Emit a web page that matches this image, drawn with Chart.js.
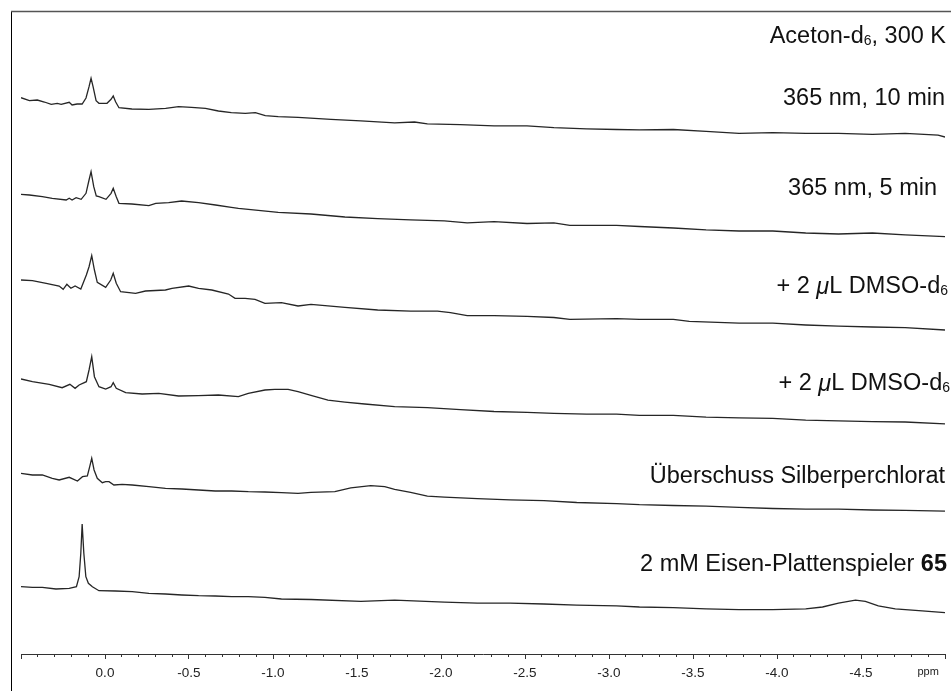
<!DOCTYPE html>
<html>
<head>
<meta charset="utf-8">
<script src="https://cdn.jsdelivr.net/npm/chart.js@4"></script>
<style>
  html, body { margin: 0; padding: 0; background: #fff; }
</style>
</head>
<body>
<canvas id="nmr" width="951" height="691"></canvas>
<script>
// chemical shift (ppm) and intensity of each trace, top to bottom
const ppm1 = [0.5, 0.45, 0.403, 0.361, 0.32, 0.284, 0.261, 0.213, 0.196, 0.166, 0.136, 0.113, 0.095, 0.083, 0.071, 0.053, 0.036, -0.012, -0.036, -0.049, -0.063, -0.083, -0.16, -0.261, -0.361, -0.438, -0.515, -0.598, -0.675, -0.752, -0.835, -0.895, -0.954, -1.031, -1.149, -1.345, -1.523, -1.724, -1.842, -1.919, -2.115, -2.316, -2.512, -2.672, -2.867, -3.045, -3.181, -3.383, -3.578, -3.774, -3.975, -4.171, -4.366, -4.568, -4.763, -4.959, -5.0];
const int1 = [0, -3.0, -2.3, -4.3, -6.6, -5.6, -6.6, -4.6, -7.3, -6.3, -6.3, -0.3, 11.0, 19.4, 11.0, -3.0, -5.6, -5.6, -1.6, 1.7, -4.0, -10.0, -11.3, -11.6, -10.6, -9.0, -9.6, -10.6, -13.3, -15.0, -15.6, -15.0, -18.0, -19.0, -19.6, -21.7, -23.2, -25.1, -24.3, -26.2, -27.0, -28.1, -28.1, -30.0, -31.1, -31.8, -32.2, -31.8, -33.7, -35.6, -34.9, -35.6, -35.6, -36.7, -35.6, -37.5, -39.3];

const ppm2 = [0.5, 0.45, 0.373, 0.314, 0.231, 0.213, 0.196, 0.172, 0.142, 0.113, 0.095, 0.083, 0.067, 0.052, 0.036, -0.006, -0.036, -0.049, -0.067, -0.083, -0.16, -0.261, -0.302, -0.379, -0.456, -0.557, -0.658, -0.752, -0.794, -1.031, -1.226, -1.428, -1.623, -1.819, -2.02, -2.156, -2.316, -2.512, -2.672, -2.767, -3.045, -3.181, -3.383, -3.578, -3.774, -3.975, -4.171, -4.366, -4.568, -4.763, -5.0];
const int2 = [0, -0.7, -2.4, -4.0, -5.7, -4.0, -5.7, -3.4, -5.0, 1.0, 14.3, 22.6, 7.6, -1.7, -2.4, -5.0, 1.0, 6.0, -2.4, -9.0, -9.7, -11.4, -9.0, -8.4, -6.7, -8.4, -10.7, -13.0, -14.0, -18.0, -19.7, -22.7, -24.3, -25.5, -26.6, -28.5, -27.4, -29.2, -28.5, -31.1, -31.1, -32.2, -33.7, -35.6, -36.7, -36.7, -38.7, -39.7, -38.7, -40.5, -42.4];

const ppm3 = [0.5, 0.432, 0.35, 0.273, 0.249, 0.227, 0.203, 0.178, 0.144, 0.111, 0.095, 0.079, 0.063, 0.046, -0.004, -0.034, -0.049, -0.067, -0.093, -0.182, -0.241, -0.36, -0.399, -0.498, -0.557, -0.636, -0.735, -0.774, -0.834, -0.893, -0.952, -1.05, -1.149, -1.226, -1.428, -1.623, -1.819, -1.979, -2.056, -2.156, -2.316, -2.512, -2.672, -2.767, -3.045, -3.181, -3.383, -3.478, -3.774, -3.975, -4.171, -4.366, -4.568, -4.763, -5.0];
const int3 = [0, -0.7, -3.3, -6.0, -9.3, -4.3, -8.3, -6.0, -9.0, 5.0, 13.3, 24.3, 10.0, -2.3, -7.3, 0, 6.7, -3.3, -11.7, -13.3, -11.0, -10.0, -8.3, -6.0, -8.3, -10.0, -14.0, -18.3, -18.3, -19.3, -23.3, -22.7, -26.0, -24.4, -27.4, -30.0, -31.1, -31.1, -32.6, -35.6, -35.6, -36.4, -37.5, -39.4, -38.6, -39.4, -39.4, -41.3, -43.2, -43.2, -45.0, -46.2, -47.0, -47.7, -50.0];

const ppm4 = [0.5, 0.432, 0.332, 0.255, 0.209, 0.178, 0.154, 0.111, 0.095, 0.079, 0.063, 0.036, -0.004, -0.036, -0.049, -0.067, -0.123, -0.221, -0.32, -0.438, -0.557, -0.675, -0.794, -0.853, -0.952, -1.011, -1.09, -1.149, -1.226, -1.327, -1.428, -1.546, -1.724, -1.919, -2.115, -2.316, -2.512, -2.672, -2.867, -3.045, -3.181, -3.383, -3.578, -3.774, -3.975, -4.171, -4.366, -4.568, -4.763, -5.0];
const int4 = [0, -2.7, -5.3, -8.7, -5.3, -9.3, -6.0, -2.7, 9.0, 22.3, 2.3, -7.7, -10.0, -7.7, -3.7, -9.3, -13.7, -15.0, -14.3, -17.0, -16.7, -16.0, -17.7, -14.3, -11.0, -10.3, -10.3, -12.7, -16.3, -21.2, -23.1, -25.0, -27.6, -28.7, -30.6, -32.5, -33.3, -34.4, -35.1, -35.1, -36.3, -36.3, -38.1, -38.9, -39.3, -41.2, -41.9, -42.7, -43.0, -44.9];

const ppm5 = [0.5, 0.432, 0.373, 0.314, 0.273, 0.213, 0.164, 0.134, 0.105, 0.091, 0.079, 0.065, 0.046, 0.016, -0.004, -0.024, -0.053, -0.102, -0.162, -0.261, -0.36, -0.458, -0.557, -0.656, -0.754, -0.853, -0.952, -1.05, -1.149, -1.226, -1.368, -1.463, -1.582, -1.665, -1.724, -1.819, -1.919, -2.02, -2.216, -2.411, -2.613, -2.808, -3.045, -3.181, -3.383, -3.578, -3.774, -3.975, -4.171, -4.366, -4.568, -4.763, -5.0];
const int5 = [0, -1.7, -1.7, -5.0, -6.7, -4.0, -7.7, -3.4, -2.7, 6.6, 15.0, 3.3, -5.0, -9.4, -8.4, -8.4, -11.7, -11.0, -11.7, -13.4, -15.0, -15.7, -16.7, -17.7, -17.7, -18.4, -18.7, -19.4, -20.0, -19.0, -18.3, -14.5, -12.3, -13.4, -16.0, -19.0, -22.8, -23.9, -25.4, -26.5, -27.3, -29.2, -30.3, -31.4, -32.2, -32.9, -34.1, -35.2, -35.9, -35.9, -36.7, -37.1, -37.8];

const ppm6 = [0.5, 0.432, 0.373, 0.292, 0.213, 0.17, 0.154, 0.144, 0.136, 0.126, 0.114, 0.099, 0.075, 0.036, -0.063, -0.162, -0.261, -0.36, -0.458, -0.557, -0.656, -0.754, -0.853, -0.952, -1.05, -1.226, -1.523, -1.724, -2.02, -2.216, -2.411, -2.613, -2.808, -3.045, -3.181, -3.383, -3.578, -3.774, -3.975, -4.171, -4.271, -4.366, -4.467, -4.526, -4.603, -4.704, -4.864, -5.0];
const int6 = [0, -0.6, -0.6, -2.3, -1.6, 0, 10.0, 33.4, 62.7, 33.4, 10.0, 3.4, 0, -4.0, -4.3, -5.0, -6.6, -7.3, -8.3, -9.0, -9.3, -10.0, -10.0, -10.6, -12.3, -12.8, -14.7, -13.5, -15.4, -16.5, -16.5, -17.3, -18.4, -19.2, -20.3, -21.0, -22.2, -22.9, -22.9, -22.2, -20.3, -16.5, -13.5, -14.7, -19.2, -22.2, -24.1, -25.9];

const allPpm = [ppm1, ppm2, ppm3, ppm4, ppm5, ppm6];
const allInt = [int1, int2, int3, int4, int5, int6];

// labelled shifts on the axis
const tickLabels = [0.0, -0.5, -1.0, -1.5, -2.0, -2.5, -3.0, -3.5, -4.0, -4.5];
const unitLabel = 'ppm';

// text runs beside the traces (plain, sub, it, b)
const traceLabels = [
  [['Aceton-d'], ['6', 'sub'], [', 300 K']],
  [['365 nm, 10 min']],
  [['365 nm, 5 min']],
  [['+ 2 '], ['\u03bc', 'it'], ['L DMSO-d'], ['6', 'sub']],
  [['+ 2 '], ['\u03bc', 'it'], ['L DMSO-d'], ['6', 'sub']],
  [['\u00dcberschuss Silberperchlorat']],
  [['2 mM Eisen-Plattenspieler '], ['65', 'b']]
];

// vertical stacking of the traces
const offsets = [556.3, 459.7, 374, 275, 180.7, 67.3];
const labelPos = [[946, 37], [945, 99], [937, 189], [948, 287], [950, 384], [945, 477], [947, 565]];

const FONT = '"Liberation Sans", Arial, sans-serif';

const decor = {
  id: 'decor',
  afterDraw(chart) {
    const ctx = chart.ctx;
    const xs = chart.scales.x;
    ctx.save();
    // frame
    ctx.strokeStyle = '#000';
    ctx.lineWidth = 1;
    ctx.beginPath();
    ctx.moveTo(11.5, 11);
    ctx.lineTo(11.5, 691);
    ctx.stroke();
    ctx.strokeStyle = '#555';
    ctx.lineWidth = 1.5;
    ctx.beginPath();
    ctx.moveTo(11, 11.5);
    ctx.lineTo(951, 11.5);
    ctx.stroke();

    ctx.fillStyle = '#222';
    ctx.textBaseline = 'middle';
    ctx.textAlign = 'center';
    ctx.font = '11px ' + FONT;
    ctx.fillText(unitLabel, xs.getPixelForValue(-4.9), 672);

    ctx.textAlign = 'left';
    ctx.fillStyle = '#111';
    const fontFor = k => k === 'sub' ? '14px ' + FONT : k === 'it' ? 'italic 23.5px ' + FONT : k === 'b' ? 'bold 23.5px ' + FONT : '23.5px ' + FONT;
    traceLabels.forEach((runs, i) => {
      let w = 0;
      runs.forEach(r => { ctx.font = fontFor(r[1]); w += ctx.measureText(r[0]).width; });
      let x = labelPos[i][0] - w;
      const y = labelPos[i][1];
      runs.forEach(r => {
        ctx.font = fontFor(r[1]);
        ctx.fillText(r[0], x, r[1] === 'sub' ? y + 4 : y);
        x += ctx.measureText(r[0]).width;
      });
    });
    ctx.restore();
  }
};

const datasets = allPpm.map((p, i) => ({
  data: p.map((v, j) => ({ x: v, y: allInt[i][j] + offsets[i] })),
  borderColor: '#262626',
  borderWidth: 1.3,
  pointRadius: 0,
  tension: 0,
  fill: false
}));

new Chart(document.getElementById('nmr'), {
  type: 'line',
  data: { datasets },
  options: {
    responsive: false,
    animation: false,
    devicePixelRatio: 1,
    layout: { padding: { left: 21, right: 1, top: 11, bottom: 0 } },
    plugins: { legend: { display: false }, tooltip: { enabled: false } },
    scales: {
      x: {
        type: 'linear',
        reverse: true,
        min: -5,
        max: 0.5,
        position: 'bottom',
        border: { display: true, color: '#333', width: 1 },
        grid: { drawOnChartArea: false, drawTicks: true, tickLength: 5, color: '#333' },
        ticks: {
          stepSize: 0.5,
          autoSkip: false,
          maxRotation: 0,
          padding: 6,
          color: '#222',
          font: { family: FONT, size: 13.5 },
          callback: v => {
            const hit = tickLabels.find(t => Math.abs(t - v) < 1e-6);
            return hit === undefined ? '' : (Math.abs(hit) < 1e-9 ? '0.0' : hit.toFixed(1));
          }
        },
        afterFit: s => { s.height = 37; }
      },
      xm: {
        type: 'linear',
        reverse: true,
        min: -5,
        max: 0.5,
        position: { y: 0 },
        border: { display: false },
        grid: { drawOnChartArea: false, drawTicks: true, tickLength: 3, color: '#333' },
        ticks: { stepSize: 0.1, display: false }
      },
      y: { display: false, min: 0, max: 643 }
    }
  },
  plugins: [decor]
});
</script>
</body>
</html>
